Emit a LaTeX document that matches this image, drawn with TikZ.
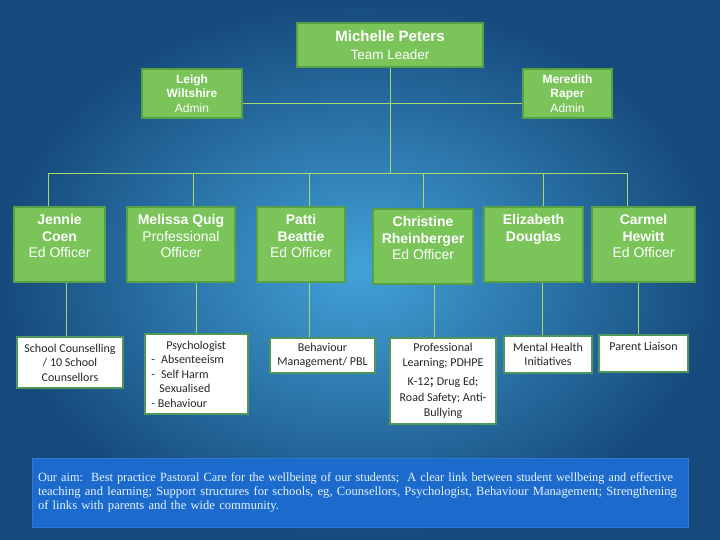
\documentclass[tikz,border=0pt]{standalone}
\usepackage{fontspec}
\setmainfont{Liberation Serif}
\newfontfamily\arialf{Liberation Sans}
\newfontfamily\calf{Carlito}
\definecolor{gfill}{RGB}{122,196,90}
\definecolor{gborder}{RGB}{88,160,68}
\definecolor{wborder}{RGB}{78,150,90}
\definecolor{lgreen}{RGB}{165,216,110}
\definecolor{bgin}{RGB}{66,162,216}
\definecolor{bgout}{RGB}{22,74,124}
\definecolor{bfill}{RGB}{28,106,204}
\definecolor{bedge}{RGB}{45,120,210}
\definecolor{aimtext}{RGB}{232,244,255}
\begin{document}
\begin{tikzpicture}[x=1pt,y=-1pt,
  gbox/.style={draw=gborder, fill=gfill, line width=1.5pt, inner sep=0pt},
  gtxt/.style={text=white, align=center, inner sep=0pt},
  wbox/.style={draw=wborder, fill=white, line width=1.5pt, inner sep=0pt,
    font=\calf\fontsize{12}{14.5}\selectfont, text=black!85, align=center},
  conn/.style={draw=lgreen, line width=0.9pt},
  lvltwo/.style={gbox, minimum height=75pt},
  lvltxt/.style={gtxt, anchor=north, yshift=-8pt, font=\arialf\fontsize{14}{16.5}\selectfont}
]
\useasboundingbox (0,0) rectangle (720,540);
\shade[inner color=bgin, outer color=bgout] (0,0) rectangle (720,540);

% top
\node[gbox, minimum width=186pt, minimum height=44pt, gtxt,
  font=\arialf\fontsize{13.5}{18}\selectfont] (mp) at (390,45)
  {{\fontsize{15}{18}\selectfont\bfseries Michelle Peters}\\Team Leader};
\node[gbox, minimum width=100pt, minimum height=49pt, gtxt,
  font=\arialf\fontsize{12}{14.5}\selectfont] (lw) at (192,93.5)
  {\raisebox{-1.5pt}{\textbf{Leigh}}\\\raisebox{-1.5pt}{\textbf{Wiltshire}}\\\raisebox{-1.5pt}{Admin}};
\node[gbox, minimum width=89pt, minimum height=49pt, gtxt,
  font=\arialf\fontsize{12}{14.5}\selectfont] (mr) at (567.5,93.5)
  {\raisebox{-1.5pt}{\textbf{Meredith}}\\\raisebox{-1.5pt}{\textbf{Raper}}\\\raisebox{-1.5pt}{Admin}};

% level 2
\node[lvltwo, minimum width=91pt] (jc) at (59.5,244.5) {};
\node[lvltwo, minimum width=108pt] (mq) at (181,244.5) {};
\node[lvltwo, minimum width=88pt] (pb) at (301,244.5) {};
\node[lvltwo, minimum width=100pt] (cr) at (423,246.5) {};
\node[lvltwo, minimum width=99pt] (ed) at (533.5,244.5) {};
\node[lvltwo, minimum width=103pt] (ch) at (643.5,244.5) {};
\node[lvltxt] (jct) at (jc.north) {\textbf{Jennie}\\\textbf{Coen}\\Ed Officer};
\node[lvltxt] (mqt) at (mq.north) {\textbf{Melissa Quig}\\Professional\\Officer};
\node[lvltxt] (pbt) at (pb.north) {\textbf{Patti}\\\textbf{Beattie}\\Ed Officer};
\node[lvltxt] (crt) at (cr.north) {\textbf{Christine}\\\textbf{Rheinberger}\\Ed Officer};
\node[lvltxt] (edt) at (ed.north) {\textbf{Elizabeth}\\\textbf{Douglas}};
\node[lvltxt] (cht) at (ch.north) {\textbf{Carmel}\\\textbf{Hewitt}\\Ed Officer};

% level 3
\node[wbox, minimum width=106pt, minimum height=51pt] (sc) at (70,362.5)
  {School Counselling\\/ 10 School\\Counsellors};
\node[wbox, minimum width=103pt, minimum height=80pt] (ps) at (196.5,374) {};
\node[anchor=west, align=left, inner sep=0pt, text=black!85,
  font=\calf\fontsize{12}{14.5}\selectfont] (pst) at ([xshift=7pt]ps.west)
  {\hspace{15pt}Psychologist\\-\hspace{6pt}Absenteeism\\-\hspace{6pt}Self Harm\\\hspace{8pt}Sexualised\\- Behaviour};
\node[wbox, minimum width=105pt, minimum height=35pt] (bm) at (322.5,355.5)
  {Behaviour\\Management/ PBL};
\node[wbox, minimum width=106pt, minimum height=86pt] (pl) at (443,381)
  {Professional\\Learning; PDHPE\\[5pt]K-12{\fontsize{17}{14.5}\selectfont;} Drug Ed;\\[1.5pt]Road Safety; Anti-\\Bullying};
\node[wbox, minimum width=88pt, minimum height=37pt] (mh) at (548,354.5)
  {Mental Health\\Initiatives};
\node[wbox, minimum width=89pt, minimum height=37pt] (pli) at (643.5,353.5) {};
\node[anchor=north, inner sep=0pt, text=black!85,
  font=\calf\fontsize{12}{14.5}\selectfont] (plit) at ([yshift=-8pt]pli.north) {Parent Liaison};

% bottom aim box
\node[draw=bedge, fill=bfill, line width=0.8pt, minimum width=656pt, minimum height=69pt,
  text width=644pt, inner xsep=6pt, inner ysep=0pt, align=left, text=aimtext,
  font=\fontsize{12.6}{14}\selectfont] (aim) at (360,492.5)
  {\scalebox{0.974}[1]{Our aim:\ \ Best practice Pastoral Care for the wellbeing of our students;\ \ A clear link between student wellbeing and effective}\\
   \mbox{teaching and learning; Support structures for schools, eg, Counsellors, Psychologist, Behaviour Management; Strengthening}\\
   \mbox{of links with parents and the wide community.}};

% connectors
\coordinate (bus) at (390,173);
\coordinate (b1) at (48,173);
\coordinate (b2) at (193,173);
\coordinate (b3) at (309,173);
\coordinate (b4) at (423,173);
\coordinate (b5) at (543,173);
\coordinate (b6) at (627,173);
\draw[conn] (mp.south) -- (bus);
\draw[conn] ([yshift=-9.5pt]lw.east) -- ([yshift=-9.5pt]mr.west);
\draw[conn] (b1) -- (b6);
\draw[conn] (b1) -- (jc.north -| b1);
\draw[conn] (b2) -- (mq.north -| b2);
\draw[conn] (b3) -- (pb.north -| b3);
\draw[conn] (b4) -- (cr.north -| b4);
\draw[conn] (b5) -- (ed.north -| b5);
\draw[conn] (b6) -- (ch.north -| b6);
\draw[conn] ([xshift=6.5pt]jc.south) -- ([xshift=-4pt]sc.north);
\draw[conn] ([xshift=15pt]mq.south) -- ([xshift=-0.5pt]ps.north);
\draw[conn] ([xshift=8pt]pb.south) -- ([xshift=-13.5pt]bm.north);
\draw[conn] ([xshift=11pt]cr.south) -- ([xshift=-9pt]pl.north);
\draw[conn] ([xshift=8.5pt]ed.south) -- ([xshift=-6pt]mh.north);
\draw[conn] ([xshift=-5.5pt]ch.south) -- ([xshift=-5.5pt]pli.north);
\end{tikzpicture}
\end{document}
